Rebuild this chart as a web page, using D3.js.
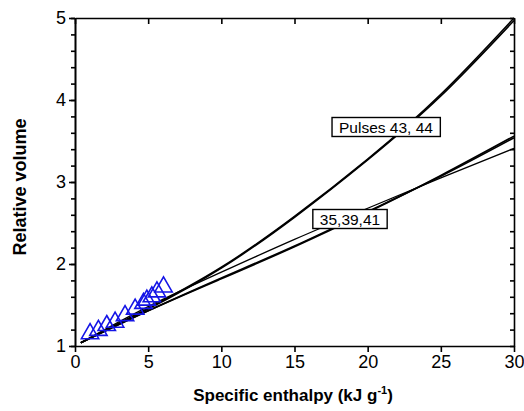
<!DOCTYPE html>
<html>
<head>
<meta charset="utf-8">
<script src="https://cdn.jsdelivr.net/npm/d3@7"></script>
<style>
  body { margin: 0; background: #fff; }
  svg { font-family: "Liberation Sans", Arial, sans-serif; }
  .axis path, .axis line { stroke: #000; stroke-width: 1.6; }
  .axis text { font-size: 18px; fill: #000; }
</style>
</head>
<body>
<svg width="524" height="411"></svg>
<script>
// Data
var xTicks = [0, 5, 10, 15, 20, 25, 30];
var yTicks = [1, 2, 3, 4, 5];

// Pulses 43, 44 (two nearly coincident curves)
var pulses43 = [[0.4, 1.04], [5, 1.46], [10, 1.96], [15, 2.58], [20, 3.28], [25, 4.07], [30, 5.0]];
var pulses44 = [[0.4, 1.04], [5, 1.45], [10, 1.95], [15, 2.57], [20, 3.27], [25, 4.05], [30, 4.97]];

// 35, 39, 41
var pulse35 = [[0.4, 1.04], [5, 1.43], [10, 1.82], [15, 2.21], [20, 2.63], [25, 3.08], [30, 3.56]];
var pulse39 = [[0.4, 1.04], [5, 1.43], [10, 1.83], [15, 2.22], [20, 2.64], [25, 3.07], [30, 3.54]];
var pulse41 = [[0.4, 1.04], [5, 1.48], [10, 1.90], [15, 2.30], [20, 2.68], [25, 3.05], [30, 3.41]];

// measured points (blue triangles)
var pointsX = [1.03, 1.60, 2.17, 2.74, 3.42, 4.11, 4.68, 4.91, 5.25, 5.60, 6.05];
var pointsY = [1.15, 1.19, 1.25, 1.29, 1.37, 1.45, 1.52, 1.56, 1.60, 1.66, 1.72];

var svg = d3.select('svg');

var x = d3.scaleLinear().domain([0, 30]).range([75, 514]);
var y = d3.scaleLinear().domain([1, 5]).range([346, 18]);

// minor ticks every 0.2 on y
var yMinor = d3.range(1, 5.001, 0.2).map(d => +d.toFixed(1));

// **** axes ****
svg.append('g')
    .attr('class', 'axis')
    .attr('transform', 'translate(0,346)')
    .call(d3.axisBottom(x).tickValues(xTicks).tickSize(6).tickPadding(3).tickSizeOuter(0));

svg.append('g')
    .attr('class', 'axis')
    .attr('transform', 'translate(0,18)')
    .call(d3.axisBottom(x).tickValues(xTicks).tickSize(6).tickFormat('').tickSizeOuter(0));

svg.append('g')
    .attr('class', 'axis')
    .attr('transform', 'translate(75,0)')
    .call(d3.axisLeft(y).tickValues(yMinor).tickSize(4).tickFormat('').tickSizeOuter(0));

svg.append('g')
    .attr('class', 'axis')
    .attr('transform', 'translate(75,0)')
    .call(d3.axisLeft(y).tickValues(yTicks).tickSize(6).tickPadding(3).tickFormat(d3.format('d')).tickSizeOuter(0));

svg.append('g')
    .attr('class', 'axis')
    .attr('transform', 'translate(514,0)')
    .call(d3.axisLeft(y).tickValues(yMinor).tickSize(4).tickFormat('').tickSizeOuter(0))
    .selectAll('.tick line').attr('x2', -4);

svg.selectAll('.axis .domain').attr('stroke-width', 1.8);

// **** curves ****
var line = d3.line()
    .x(d => x(d[0]))
    .y(d => y(d[1]))
    .curve(d3.curveNatural);

var series = [
    {data: pulses43, w: 1.6},
    {data: pulses44, w: 1.6},
    {data: pulse35, w: 1.6},
    {data: pulse39, w: 1.6},
    {data: pulse41, w: 1.3}
];

svg.selectAll('path.curve')
    .data(series)
    .enter()
    .append('path')
    .attr('class', 'curve')
    .attr('d', d => line(d.data))
    .style('fill', 'none')
    .style('stroke', '#000')
    .style('stroke-width', d => d.w);

// **** triangles ****
var tri = d3.symbol().type(d3.symbolTriangle).size(130);
svg.selectAll('path.pt')
    .data(pointsX)
    .enter()
    .append('path')
    .attr('class', 'pt')
    .attr('transform', (d, i) => 'translate(' + x(d) + ',' + y(pointsY[i]) + ')')
    .attr('d', tri)
    .style('fill', 'none')
    .style('stroke', '#1414e6')
    .style('stroke-width', 1.6);

// **** labels in boxes ****
function boxLabel(text, cx, cy) {
    var g = svg.append('g');
    var t = g.append('text')
        .attr('x', cx)
        .attr('y', cy)
        .attr('text-anchor', 'middle')
        .attr('dominant-baseline', 'central')
        .style('font-size', '15.5px')
        .text(text);
    var b = t.node().getBBox();
    g.insert('rect', 'text')
        .attr('x', b.x - 7)
        .attr('y', cy - 9.5)
        .attr('width', b.width + 14)
        .attr('height', 19)
        .style('fill', '#fff')
        .style('stroke', '#000')
        .style('stroke-width', 1.4);
}
boxLabel('Pulses 43, 44', 386, 127);
boxLabel('35,39,41', 350, 219);

// **** axis titles ****
var xt = svg.append('text')
    .attr('x', 293)
    .attr('y', 401)
    .attr('text-anchor', 'middle')
    .style('font-size', '17px')
    .style('font-weight', 'bold')
    .text('Specific enthalpy (kJ g');
xt.append('tspan')
    .attr('dy', -7)
    .style('font-size', '11px')
    .text('-1');
xt.append('tspan')
    .attr('dy', 7)
    .text(')');

svg.append('text')
    .attr('transform', 'translate(26,187) rotate(-90)')
    .attr('text-anchor', 'middle')
    .style('font-size', '18px')
    .style('font-weight', 'bold')
    .text('Relative volume');
</script>
</body>
</html>
